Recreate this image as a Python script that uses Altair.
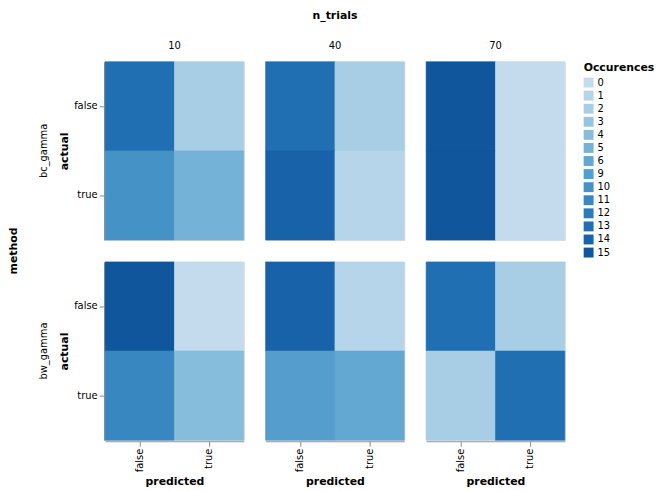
import altair as alt
import pandas as pd

methods = ["bc_gamma"] * 12 + ["bw_gamma"] * 12
n_trials = ([10] * 4 + [40] * 4 + [70] * 4) * 2
actual = ["false", "false", "true", "true"] * 6
predicted = ["false", "true", "false", "true"] * 6
counts = [
    13, 2, 10, 5,   # bc_gamma, 10
    13, 2, 14, 1,   # bc_gamma, 40
    15, 0, 15, 0,   # bc_gamma, 70
    15, 0, 11, 4,   # bw_gamma, 10
    14, 1, 9, 6,    # bw_gamma, 40
    13, 2, 2, 13,   # bw_gamma, 70
]
legend_values = [0, 1, 2, 3, 4, 5, 6, 9, 10, 11, 12, 13, 14, 15]

df = pd.DataFrame({
    "method": methods,
    "n_trials": n_trials,
    "actual": actual,
    "predicted": predicted,
    "count": counts,
})

scale = alt.Scale(domain=legend_values, scheme="blues")

chart = alt.Chart(df).mark_rect(strokeWidth=0.6).encode(
    x=alt.X("predicted:N", title="predicted"),
    y=alt.Y("actual:N", title="actual"),
    color=alt.Color("count:O", title="Occurences", scale=scale),
    stroke=alt.Stroke("count:O", title="Occurences", scale=scale),
).properties(width=140, height=180).facet(
    row=alt.Row("method:N", title="method"),
    column=alt.Column("n_trials:O", title="n_trials"),
).properties(
    padding=0
).configure(
    font="DejaVu Sans"
).configure_legend(
    symbolStrokeWidth=0,
    symbolSize=100,
    symbolType="square",
    rowPadding=3.2,
)

chart.save("out.html", embed_options={"renderer": "svg", "actions": False})
